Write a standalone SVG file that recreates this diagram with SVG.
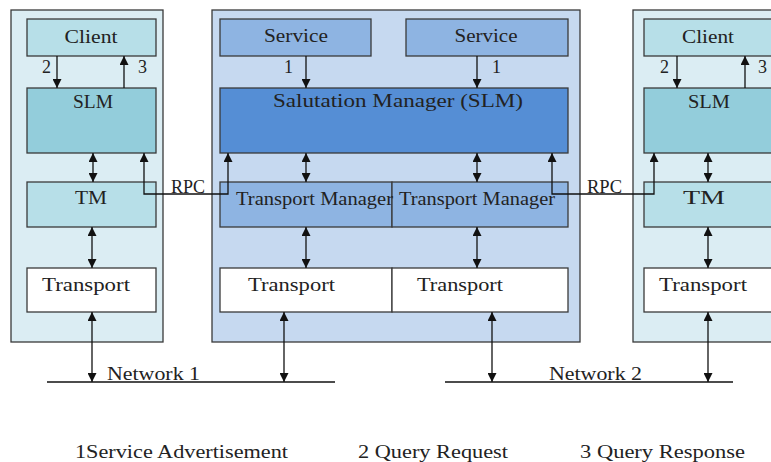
<svg xmlns="http://www.w3.org/2000/svg" width="771" height="462" viewBox="0 0 771 462">
<style>
.t{font-family:"Liberation Serif","Times New Roman",serif;font-size:18px;fill:#222}
.b{stroke:#3a3a3a;stroke-width:1.3}
.pc{fill:#dbedf3}
.pb{fill:#c6d9f0}
.cl{fill:#b7dfe8}
.sl{fill:#93cddb}
.sv{fill:#8eb4e2}
.sm{fill:#558ed5}
.w{fill:#fff}
.c{stroke:#111;stroke-width:1.3;fill:none}
</style>
<defs>
<marker id="ah" viewBox="0 0 10 10" refX="10" refY="5" markerWidth="9" markerHeight="9" markerUnits="userSpaceOnUse" orient="auto-start-reverse">
<path d="M0,0 L10,5 L0,10 z" fill="#111"/>
</marker>
</defs>
<rect width="771" height="462" fill="#fff"/>

<g id="panel-left">
<rect class="pc b" x="11" y="10" width="152" height="332"/>
</g>
<g id="panel-center">
<rect class="pb b" x="212" y="10" width="368" height="332"/>
</g>
<g id="panel-right">
<rect class="pc b" x="633" y="10" width="160" height="332"/>
</g>

<g id="client-left"><rect class="cl b" x="27" y="19" width="129" height="37"/><text class="t" x="91" y="43" text-anchor="middle" textLength="53" lengthAdjust="spacingAndGlyphs">Client</text></g>
<g id="slm-left"><rect class="sl b" x="27" y="88" width="129" height="65"/><text class="t" x="93" y="108" text-anchor="middle" textLength="40" lengthAdjust="spacingAndGlyphs">SLM</text></g>
<g id="tm-left"><rect class="cl b" x="27" y="182" width="129" height="45"/><text class="t" x="91" y="204" text-anchor="middle" textLength="32" lengthAdjust="spacingAndGlyphs">TM</text></g>
<g id="transport-left"><rect class="w b" x="27" y="268" width="129" height="44"/><text class="t" x="42" y="291" textLength="88" lengthAdjust="spacingAndGlyphs">Transport</text></g>

<g id="service-1"><rect class="sv b" x="220" y="19" width="151" height="37"/><text class="t" x="296" y="42" text-anchor="middle" textLength="64" lengthAdjust="spacingAndGlyphs">Service</text></g>
<g id="service-2"><rect class="sv b" x="406" y="19" width="162" height="37"/><text class="t" x="486" y="42" text-anchor="middle" textLength="63" lengthAdjust="spacingAndGlyphs">Service</text></g>
<g id="slm-center"><rect class="sm b" x="220" y="88" width="348" height="65"/><text class="t" x="273" y="107" textLength="250" lengthAdjust="spacingAndGlyphs">Salutation Manager (SLM)</text></g>
<g id="tm-center-1"><rect class="sv b" x="220" y="182" width="172" height="45"/></g>
<g id="tm-center-2"><rect class="sv b" x="392" y="182" width="176" height="45"/></g>
<g id="transport-center-1"><rect class="w b" x="220" y="268" width="172" height="44"/><text class="t" x="248" y="291" textLength="87" lengthAdjust="spacingAndGlyphs">Transport</text></g>
<g id="transport-center-2"><rect class="w b" x="392" y="268" width="176" height="44"/><text class="t" x="417" y="291" textLength="86" lengthAdjust="spacingAndGlyphs">Transport</text></g>

<g id="client-right"><rect class="cl b" x="644" y="19" width="140" height="37"/><text class="t" x="708" y="43" text-anchor="middle" textLength="52" lengthAdjust="spacingAndGlyphs">Client</text></g>
<g id="slm-right"><rect class="sl b" x="644" y="88" width="140" height="65"/><text class="t" x="709" y="108" text-anchor="middle" textLength="42" lengthAdjust="spacingAndGlyphs">SLM</text></g>
<g id="tm-right"><rect class="cl b" x="644" y="182" width="140" height="45"/><text class="t" x="704" y="204" text-anchor="middle" textLength="42" lengthAdjust="spacingAndGlyphs">TM</text></g>
<g id="transport-right"><rect class="w b" x="644" y="268" width="140" height="44"/><text class="t" x="659" y="291" textLength="88" lengthAdjust="spacingAndGlyphs">Transport</text></g>

<g id="connectors">
<line class="c" x1="57" y1="56" x2="57" y2="88" marker-end="url(#ah)"/>
<line class="c" x1="124" y1="88" x2="124" y2="56" marker-end="url(#ah)"/>
<line class="c" x1="93" y1="153" x2="93" y2="182" marker-start="url(#ah)" marker-end="url(#ah)"/>
<line class="c" x1="92" y1="227" x2="92" y2="268" marker-start="url(#ah)" marker-end="url(#ah)"/>
<line class="c" x1="92" y1="312" x2="92" y2="382" marker-start="url(#ah)" marker-end="url(#ah)"/>
<line class="c" x1="306" y1="56" x2="306" y2="88" marker-end="url(#ah)"/>
<line class="c" x1="477" y1="56" x2="477" y2="88" marker-end="url(#ah)"/>
<line class="c" x1="306" y1="153" x2="306" y2="182" marker-start="url(#ah)" marker-end="url(#ah)"/>
<line class="c" x1="477" y1="153" x2="477" y2="182" marker-start="url(#ah)" marker-end="url(#ah)"/>
<line class="c" x1="306" y1="227" x2="306" y2="268" marker-start="url(#ah)" marker-end="url(#ah)"/>
<line class="c" x1="477" y1="227" x2="477" y2="268" marker-start="url(#ah)" marker-end="url(#ah)"/>
<line class="c" x1="284" y1="312" x2="284" y2="382" marker-start="url(#ah)" marker-end="url(#ah)"/>
<line class="c" x1="492" y1="312" x2="492" y2="382" marker-start="url(#ah)" marker-end="url(#ah)"/>
<line class="c" x1="677" y1="56" x2="677" y2="88" marker-end="url(#ah)"/>
<line class="c" x1="745" y1="88" x2="745" y2="56" marker-end="url(#ah)"/>
<line class="c" x1="708" y1="153" x2="708" y2="182" marker-start="url(#ah)" marker-end="url(#ah)"/>
<line class="c" x1="708" y1="227" x2="708" y2="268" marker-start="url(#ah)" marker-end="url(#ah)"/>
<line class="c" x1="708" y1="312" x2="708" y2="382" marker-start="url(#ah)" marker-end="url(#ah)"/>
<polyline class="c" points="228,153 228,194 144,194 144,153" marker-start="url(#ah)" marker-end="url(#ah)"/>
<polyline class="c" points="552,153 552,194 654,194 654,153" marker-start="url(#ah)" marker-end="url(#ah)"/>
<line class="c" x1="47" y1="382" x2="335" y2="382"/>
<line class="c" x1="445" y1="382" x2="733" y2="382"/>
</g>

<g id="labels">
<text class="t" x="42" y="73">2</text>
<text class="t" x="138" y="73">3</text>
<text class="t" x="284" y="73">1</text>
<text class="t" x="492" y="73">1</text>
<text class="t" x="660" y="73">2</text>
<text class="t" x="758" y="73">3</text>
<text class="t" x="171" y="193" font-size="14" textLength="34" lengthAdjust="spacingAndGlyphs">RPC</text>
<text class="t" x="587" y="193" font-size="14" textLength="35" lengthAdjust="spacingAndGlyphs">RPC</text>
<text class="t" x="236" y="205" textLength="157" lengthAdjust="spacingAndGlyphs">Transport Manager</text>
<text class="t" x="399" y="205" textLength="156" lengthAdjust="spacingAndGlyphs">Transport Manager</text>
<text class="t" x="107" y="380" textLength="93" lengthAdjust="spacingAndGlyphs">Network 1</text>
<text class="t" x="549" y="380" textLength="93" lengthAdjust="spacingAndGlyphs">Network 2</text>
<text class="t" x="75" y="458" textLength="213" lengthAdjust="spacingAndGlyphs">1Service Advertisement</text>
<text class="t" x="358" y="458" textLength="150" lengthAdjust="spacingAndGlyphs">2 Query Request</text>
<text class="t" x="580" y="458" textLength="165" lengthAdjust="spacingAndGlyphs">3 Query Response</text>
</g>
</svg>
